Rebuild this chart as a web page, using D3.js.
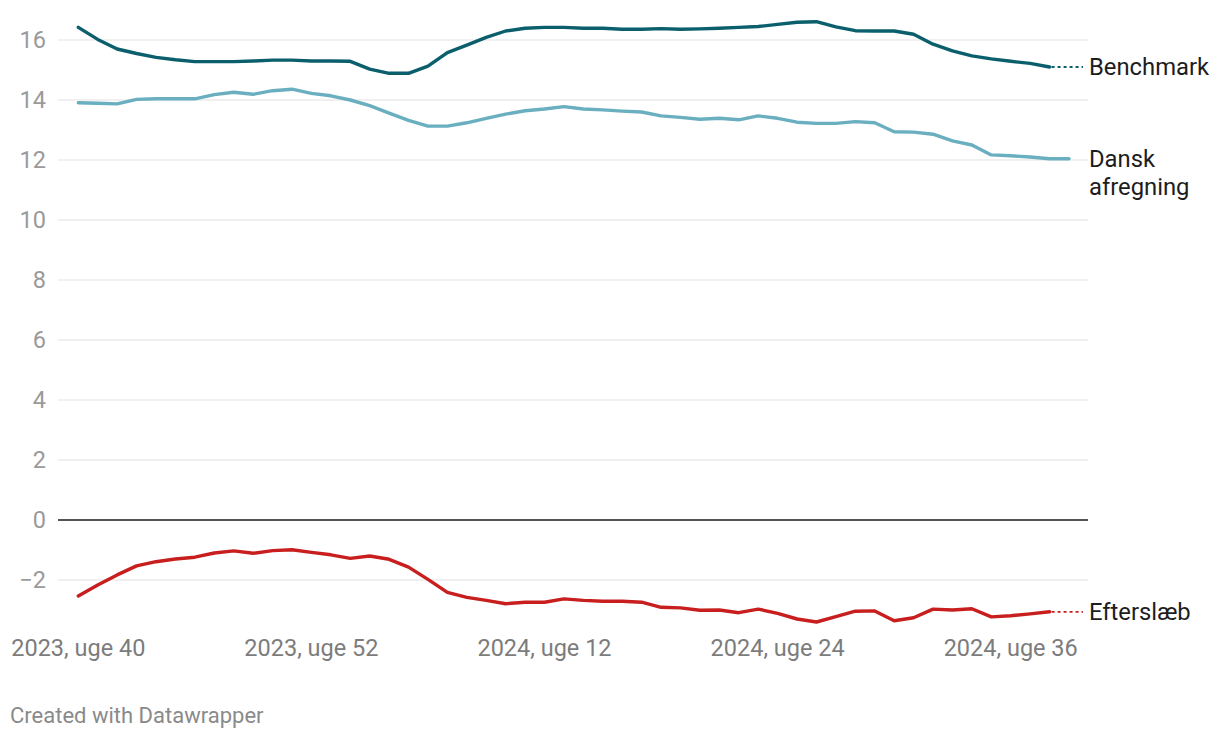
<!DOCTYPE html>
<html lang="da">
  <head>
    <meta charset="utf-8">
    <title>Benchmark vs. dansk afregning</title>
    <style>
      body { margin: 0; background: #ffffff; }
      svg { display: block; font-family: Roboto, "Noto Sans", sans-serif; }
    </style>
    <script src="https://cdn.jsdelivr.net/npm/d3@7"></script>
  </head>
  <body>
    <script>

      // ugenumre, 0 = 2023 uge 40
      const tickWeeks  = [0, 12, 24, 36, 48];
      const tickLabels = ['2023, uge 40', '2023, uge 52', '2024, uge 12', '2024, uge 24', '2024, uge 36'];
      const yTicks = [-2, 0, 2, 4, 6, 8, 10, 12, 14, 16];

      const benchmark = [
        16.42, 16.02, 15.70, 15.55, 15.42, 15.34, 15.28, 15.28, 15.28, 15.30,
        15.33, 15.33, 15.30, 15.30, 15.29, 15.03, 14.89, 14.89, 15.13, 15.58,
        15.83, 16.09, 16.30, 16.39, 16.42, 16.42, 16.39, 16.39, 16.36, 16.36,
        16.38, 16.36, 16.37, 16.39, 16.42, 16.45, 16.52, 16.59, 16.61, 16.44,
        16.31, 16.30, 16.30, 16.19, 15.86, 15.64, 15.47, 15.37, 15.29, 15.22,
        15.10
      ];

      const danskAfregning = [
        13.91, 13.89, 13.87, 14.02, 14.04, 14.04, 14.04, 14.18, 14.26, 14.19,
        14.31, 14.36, 14.22, 14.14, 14.00, 13.81, 13.56, 13.32, 13.13, 13.13,
        13.24, 13.39, 13.53, 13.64, 13.70, 13.78, 13.70, 13.67, 13.63, 13.60,
        13.47, 13.42, 13.36, 13.39, 13.34, 13.47, 13.39, 13.26, 13.22, 13.22,
        13.28, 13.24, 12.94, 12.93, 12.86, 12.64, 12.50, 12.17, 12.14, 12.10,
        12.04, 12.04
      ];

      const efterslaeb = [
        -2.53, -2.17, -1.83, -1.53, -1.39, -1.30, -1.24, -1.10, -1.03, -1.11,
        -1.02, -0.99, -1.08, -1.16, -1.28, -1.20, -1.31, -1.57, -1.98, -2.41,
        -2.58, -2.68, -2.79, -2.74, -2.74, -2.63, -2.68, -2.71, -2.71, -2.74,
        -2.91, -2.93, -3.01, -3.00, -3.09, -2.97, -3.11, -3.30, -3.40, -3.22,
        -3.04, -3.03, -3.36, -3.26, -2.97, -3.00, -2.96, -3.23, -3.19, -3.13,
        -3.06
      ];

      const series = [
        { name: ['Benchmark'], values: benchmark, color: '#0b5f6c', labelY: 15.1, dotted: true },
        { name: ['Dansk', 'afregning'], values: danskAfregning, color: '#6aafc0', labelY: 12.05, dotted: false },
        { name: ['Efterslæb'], values: efterslaeb, color: '#c81e1e', labelY: -3.06, dotted: true }
      ];

      const width = 1220, height = 738;
      const gridLeft = 58, gridRight = 1088;

      const x = d3.scaleLinear().domain([0, 51]).range([78.3, 1069]);
      const y = d3.scaleLinear().domain([-2, 16]).range([580, 40]);

      const svg = d3.select('body').append('svg')
        .attr('width', width)
        .attr('height', height);

      // gitterlinjer
      svg.append('g')
        .selectAll('line')
        .data(yTicks.filter(d => d !== 0))
        .join('line')
          .attr('x1', gridLeft).attr('x2', gridRight)
          .attr('y1', d => y(d)).attr('y2', d => y(d))
          .attr('stroke', '#e2e2e2')
          .attr('stroke-width', 1.2);

      svg.append('g')
        .selectAll('text')
        .data(yTicks)
        .join('text')
          .attr('x', 46)
          .attr('y', d => y(d))
          .attr('dy', '0.35em')
          .attr('text-anchor', 'end')
          .attr('fill', '#9a9a9a')
          .style('font-size', '23.5px')
          .text(d => d < 0 ? '\u2212' + Math.abs(d) : d);

      svg.append('line')
        .attr('x1', gridLeft).attr('x2', gridRight)
        .attr('y1', y(0)).attr('y2', y(0))
        .attr('stroke', '#1a1a1a')
        .attr('stroke-width', 1.6);

      // x-akse
      svg.append('g')
        .selectAll('text')
        .data(tickWeeks)
        .join('text')
          .attr('x', d => x(d))
          .attr('y', 648)
          .attr('dy', '0.35em')
          .attr('text-anchor', 'middle')
          .attr('fill', '#7c7c7c')
          .style('font-size', '23.5px')
          .text((d, i) => tickLabels[i]);

      const line = d3.line()
        .x((d, i) => x(i))
        .y(d => y(d));

      for (let s of series) {
        svg.append('path')
          .datum(s.values)
          .attr('fill', 'none')
          .attr('stroke', s.color)
          .attr('stroke-width', 3.4)
          .attr('stroke-linejoin', 'round')
          .attr('stroke-linecap', 'round')
          .attr('d', line);

        const last = s.values.length - 1;
        if (s.dotted) {
          svg.append('line')
            .attr('x1', x(last) + 2).attr('x2', 1083)
            .attr('y1', y(s.values[last])).attr('y2', y(s.values[last]))
            .attr('stroke', s.color)
            .attr('stroke-width', 1.8)
            .attr('stroke-dasharray', '3,3');
        }

        const label = svg.append('text')
          .attr('fill', '#1d1d1d')
          .style('font-size', '23.8px');
        s.name.forEach((t, i) => {
          label.append('tspan')
            .attr('x', 1089)
            .attr('y', y(s.labelY) + i * 28)
            .attr('dy', '0.35em')
            .text(t);
        });
      }

      svg.append('text')
        .attr('x', 10)
        .attr('y', 715)
        .attr('dy', '0.35em')
        .attr('fill', '#8a8a8a')
        .style('font-size', '22px')
        .text('Created with Datawrapper');

    </script>
  </body>
</html>
